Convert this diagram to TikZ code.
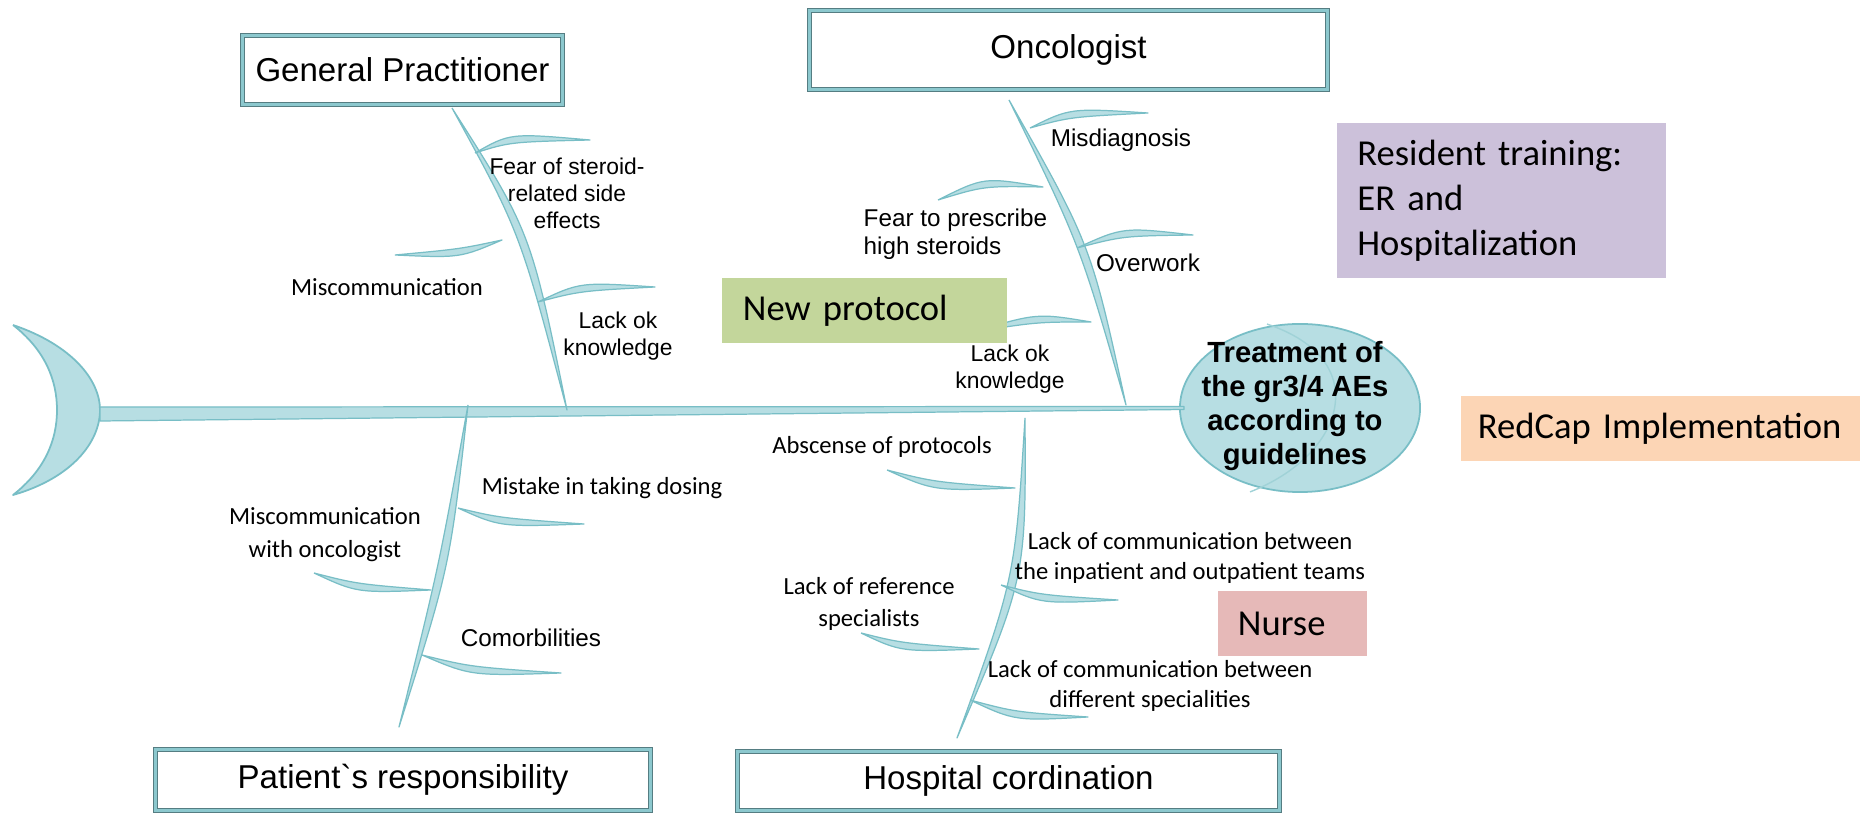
\documentclass[tikz,border=0pt]{standalone}
\usepackage{fontspec}
\setmainfont{Liberation Sans}
\newfontfamily\calib{Carlito}
\newfontfamily\arialpt{Liberation Sans}[Ligatures=TeXOff]
\usetikzlibrary{shapes.geometric,calc}
\definecolor{bonefill}{RGB}{183,222,227}
\definecolor{boneline}{RGB}{120,190,198}
\definecolor{boxdark}{RGB}{85,125,130}
\definecolor{boxteal}{RGB}{140,200,206}
\definecolor{lav}{RGB}{204,193,218}
\definecolor{peach}{RGB}{252,213,181}
\definecolor{grn}{RGB}{195,214,155}
\definecolor{pnk}{RGB}{230,185,184}
\newcommand\rib[4]{\filldraw[ribstyle] (#1) .. controls (#3) .. (#2) .. controls ($(#3)+(#4)$) .. (#1);}
\tikzset{
  ribstyle/.style={fill=bonefill, draw=boneline, line width=0.35pt, line join=round},
  titlebox/.style={draw=boxdark, line width=0.3pt, double=boxteal, double distance=0.85pt, fill=white, inner sep=0pt, font=\fontsize{9.4}{11}\selectfont},
  colbox/.style={inner ysep=0pt, align=left, font=\calib\fontsize{10.4}{12.8}\selectfont},
  lblA/.style={inner sep=0pt, align=center, font=\fontsize{6.5}{7.7}\selectfont},
  lblO/.style={inner sep=0pt, align=center, font=\fontsize{6.9}{7.9}\selectfont},
  lblC/.style={inner sep=0pt, align=center, font=\calib\fontsize{7}{8.5}\selectfont},
  headshape/.style={ellipse, fill=bonefill, draw=boneline, line width=0.5pt, minimum width=2.4cm, minimum height=1.68cm, inner sep=0pt},
  headtext/.style={inner sep=0pt, align=center, font=\bfseries\fontsize{8.3}{9.7}\selectfont}
}
\begin{document}
\begin{tikzpicture}[x=0.01cm, y=-0.01cm]
\useasboundingbox (0,0) rectangle (1864,816);
\fill[white] (0,0) rectangle (1864,816);
% tail
\filldraw[ribstyle, line width=0.5pt] (13,325) .. controls (72,345) and (100,380) .. (100,410)
  .. controls (100,442) and (72,478) .. (13,495)
  .. controls (45,470) and (57,440) .. (57,410)
  .. controls (57,380) and (45,350) .. (13,325);
% head shape
\node[headshape] (head) at (1300,408) {};
\coordinate (tailR) at (100,414);
% spine
\filldraw[ribstyle] ($(tailR)+(0,-7)$) -- ($(head.west)+(5,-1.5)$) -- ($(head.west)+(5,1.5)$) -- ($(tailR)+(0,7)$) -- cycle;
% main bones
\coordinate (gpT) at (452,108);  \coordinate (gpB) at (567,410);
\coordinate (onT) at (1009,100); \coordinate (onB) at (1126,405);
\coordinate (paT) at (468,405);  \coordinate (paB) at (399,727);
\coordinate (hoT) at (1025,418); \coordinate (hoB) at (957,738);
\rib{gpT}{gpB}{520,232}{11,0}
\rib{onT}{onB}{1080,245}{11,0}
\rib{paT}{paB}{439,566}{11,0}
\rib{hoT}{hoB}{1015,578}{11,0}
% GP ribs
\rib{475,153}{590,140}{510,133}{0,9}
\rib{395,255}{502,240}{460,258}{0,-9}
\rib{538,302}{655,287}{580,282}{0,9}
% Oncologist ribs
\rib{1030,128}{1148,113}{1070,108}{0,9}
\rib{938,200}{1043,187}{984,177}{0,9}
\rib{1077,248}{1193,235}{1123,227}{0,9}
\rib{973,332}{1091,322}{1037,313}{0,9}
% Patient ribs
\rib{458,508}{584,524}{500,527}{0,-9}
\rib{314,573}{431,590}{357,593}{0,-9}
\rib{422,655}{561,673}{471,676}{0,-9}
% Hospital ribs
\rib{887,470}{1015,488}{934,491}{0,-9}
\rib{1001,585}{1118,600}{1041,604}{0,-9}
\rib{861,633}{979,649}{901,652}{0,-9}
\rib{970,700}{1088,717}{1015,721}{0,-9}
% head inner arc and text
\draw[boneline!70, line width=0.4pt] ($(head.north)+(-33,1)$) .. controls (1375,360) and (1345,455) .. ($(head.south)+(-50,-1)$);
\node[headtext] (headt) at (1295,406) {Treatment of\\the gr3/4 AEs\\according to\\guidelines};
% category boxes
\node[titlebox, minimum width=3.2cm, minimum height=0.69cm] (gp) at (402.5,70) {General Practitioner};
\node[titlebox, minimum width=5.17cm, minimum height=0.79cm] (onc) at (1068.5,50) {Oncologist};
\node[titlebox, minimum width=4.94cm, minimum height=0.61cm, font=\arialpt\fontsize{9.4}{11}\selectfont] (pat) at (403,780) {Patient`s responsibility};
\node[titlebox, minimum width=5.42cm, minimum height=0.59cm] (hos) at (1008.5,781) {Hospital cordination};
% coloured boxes
\node[colbox, fill=lav, minimum width=3.29cm, minimum height=1.55cm, inner xsep=0.205cm, text width=2.88cm] (res) at (1501.5,200.5) {Resident training:\\ER and\\Hospitalization};
\node[colbox, fill=peach, minimum width=3.99cm, minimum height=0.65cm, inner xsep=0.17cm, text width=3.65cm] (red) at (1660.5,428.5) {RedCap Implementation};
\node[colbox, fill=grn, minimum width=2.845cm, minimum height=0.65cm, inner xsep=0.205cm, text width=2.435cm] (newp) at (864.75,310.5) {New protocol};
\node[colbox, fill=pnk, minimum width=1.49cm, minimum height=0.65cm, inner xsep=0.2cm, text width=1.09cm] (nur) at (1292.5,623.5) {Nurse};
% labels GP
\node[lblA] (gf) at (567,193) {Fear of steroid-\\related side\\effects};
\node[lblC] (gm) at (387,287) {Miscommunication};
\node[lblA] (gl) at (618,336) {Lack ok\\knowledge};
% labels Oncologist
\node[lblO] (om) at (1121,140) {Misdiagnosis};
\node[lblO, align=left, anchor=west] (of) at (863,234) {Fear to prescribe\\high steroids};
\node[lblO] (oo) at (1148,263) {Overwork};
\node[lblA] (ol) at (1010,369) {Lack ok\\knowledge};
% labels Patient
\node[lblC] (pm) at (602,488) {Mistake in taking dosing};
\node[lblC, font=\calib\fontsize{7}{9.4}\selectfont] (pc) at (325,535) {Miscommunication\\with oncologist};
\node[lblO] (pb) at (531,638) {Comorbilities};
% labels Hospital
\node[lblC] (ha) at (882,447) {Abscense of protocols};
\node[lblC] (ht) at (1190,558) {Lack of communication between\\the inpatient and outpatient teams};
\node[lblC, font=\calib\fontsize{7}{9}\selectfont] (hr) at (869,604) {Lack of reference\\specialists};
\node[lblC] (hd) at (1150,686) {Lack of communication between\\different specialities};
\end{tikzpicture}
\end{document}
